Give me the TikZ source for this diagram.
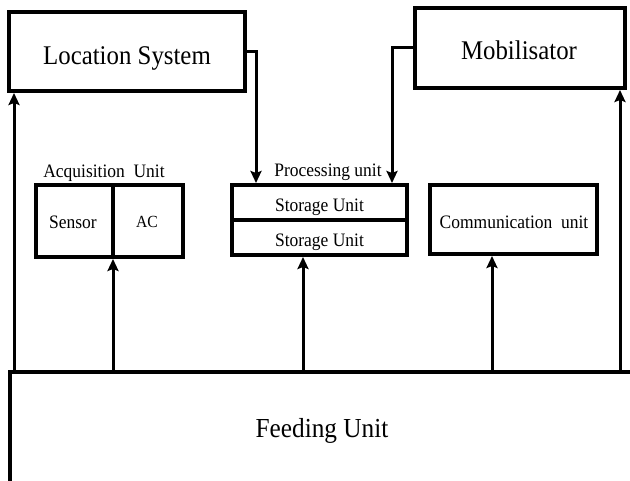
\documentclass[tikz,border=0pt]{standalone}
\usepackage{fontspec}
\setmainfont[FakeStretch=0.92]{Liberation Serif}
\usetikzlibrary{arrows.meta}
\begin{document}
\begin{tikzpicture}[x=1pt,y=-1pt,
  box/.style={draw=black,line width=4pt,rectangle,inner sep=0pt,anchor=center},
  txt/.style={inner sep=0pt,anchor=base},
  conn/.style={line width=3pt},
  arr/.style={conn,-{Stealth[length=12pt,width=11pt,inset=2pt]}},
  big/.style={font=\fontsize{27}{30}\selectfont},
  mid/.style={font=\fontsize{19}{22}\selectfont}]
\useasboundingbox[fill=white] (0,0) rectangle (630,481);
% top boxes
\node[box,minimum width=236pt,minimum height=79pt] (loc) at (127,51.5) {};
\node[txt,big] (loctxt) at (127,65) {Location System};
\node[box,minimum width=210pt,minimum height=80pt] (mob) at (520,48) {};
\node[txt,big] (mobtxt) at (519,60) {Mobilisator};
% acquisition unit
\node[txt,mid] (acqlbl) at (104,178) {Acquisition\ \ Unit};
\node[box,minimum width=77pt,minimum height=72pt] (sensor) at (74.5,221) {};
\node[txt,mid] (sensortxt) at (73,229) {Sensor};
\node[box,minimum width=70pt,minimum height=72pt] (ac) at (148,221) {};
\node[txt,font=\fontsize{17}{20}\selectfont] (actxt) at (147,228) {AC};
% processing unit
\node[txt,mid] (proclbl) at (328,177) {Processing unit};
\node[box,minimum width=175pt,minimum height=35pt] (st1) at (319.5,202.5) {};
\node[txt,mid] (st1txt) at (319.5,212) {Storage Unit};
\node[box,minimum width=175pt,minimum height=35pt] (st2) at (319.5,237.5) {};
\node[txt,mid] (st2txt) at (319.5,247) {Storage Unit};
% communication unit
\node[box,minimum width=167pt,minimum height=69pt] (comm) at (513.5,219.5) {};
\node[txt,mid] (commtxt) at (514,229) {Communication\ \ unit};
% feeding unit
\node[inner sep=0pt,minimum width=622pt,minimum height=111pt] (feed) at (321,427.5) {};
\node[txt,font=\fontsize{27.5}{30}\selectfont] (feedlbl) at (322,438) {Feeding Unit};
\draw[line width=4pt] (feed.south west) -- (feed.north west) -- (feed.north east);
% connection points on feeding unit
\coordinate (f1) at (14,372);
\coordinate (f2) at (113,372);
\coordinate (f3) at (303,372);
\coordinate (f4) at (492,372);
\coordinate (f5) at (620,372);
\draw[arr] (f1) -- (f1 |- loc.south);
\draw[arr] (f2) -- (f2 |- sensor.south);
\draw[arr] (f3) -- (f3 |- st2.south);
\draw[arr] (f4) -- (f4 |- comm.south);
\draw[arr] (f5) -- (f5 |- mob.south);
% top connectors
\coordinate (l1) at (256,52);
\coordinate (m1) at (392,48);
\draw[arr] (loc.east |- l1) -| (l1 |- st1.north);
\draw[arr] (mob.west |- m1) -| (m1 |- st1.north);
\end{tikzpicture}
\end{document}
